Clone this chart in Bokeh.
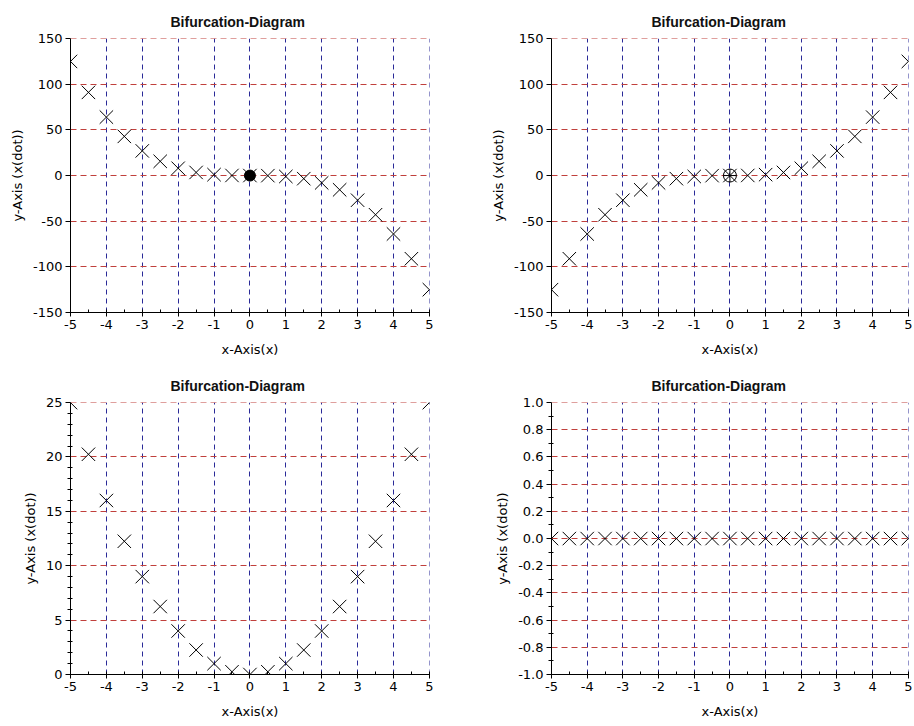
from bokeh.plotting import figure
from bokeh.layouts import column, row
from bokeh.models import FixedTicker, CustomJSTickFormatter
from bokeh.embed import file_html
from bokeh.resources import INLINE

# ---- data ----
x_vals = [-5.0, -4.5, -4.0, -3.5, -3.0, -2.5, -2.0, -1.5, -1.0, -0.5, 0.0,
          0.5, 1.0, 1.5, 2.0, 2.5, 3.0, 3.5, 4.0, 4.5, 5.0]
y_top_left = [125, 91.1, 64, 42.9, 27, 15.6, 8, 3.4, 1, 0.1, 0,
              -0.1, -1, -3.4, -8, -15.6, -27, -42.9, -64, -91.1, -125]
y_top_right = [-125, -91.1, -64, -42.9, -27, -15.6, -8, -3.4, -1, -0.1, 0,
               0.1, 1, 3.4, 8, 15.6, 27, 42.9, 64, 91.1, 125]
y_bottom_left = [25, 20.25, 16, 12.25, 9, 6.25, 4, 2.25, 1, 0.25, 0,
                 0.25, 1, 2.25, 4, 6.25, 9, 12.25, 16, 20.25, 25]
y_bottom_right = [0, 0, 0, 0, 0, 0, 0, 0, 0, 0, 0,
                  0, 0, 0, 0, 0, 0, 0, 0, 0, 0]
stable_x, stable_y = [0.0], [0.0]
unstable_x, unstable_y = [0.0], [0.0]

x_ticks = [-5, -4, -3, -2, -1, 0, 1, 2, 3, 4, 5]
x_minor = [-4.5, -3.5, -2.5, -1.5, -0.5, 0.5, 1.5, 2.5, 3.5, 4.5]
y_ticks_cubic = [-150, -100, -50, 0, 50, 100, 150]
y_ticks_square = [0, 5, 10, 15, 20, 25]
y_minor_square = [1, 2, 3, 4, 6, 7, 8, 9, 11, 12, 13, 14, 16, 17, 18, 19, 21, 22, 23, 24]
y_ticks_flat = [-1.0, -0.8, -0.6, -0.4, -0.2, 0.0, 0.2, 0.4, 0.6, 0.8, 1.0]
y_minor_flat = [-0.9, -0.7, -0.5, -0.3, -0.1, 0.1, 0.3, 0.5, 0.7, 0.9]

TITLE = "Bifurcation-Diagram"
XLABEL = "x-Axis(x)"
YLABEL = "y-Axis (x(dot))"

RED = "#c0403c"
BLUE = "#2a2a98"
TITLE_FONT = "Liberation Sans"
FONT = "DejaVu Sans"


def make_fig(ys, ylo, yhi, yticks, yminor, decimals, left, right, top, bottom, width, height):
    # tiny padding on the far ends so the edge grid lines are drawn too
    p = figure(width=width, height=height,
               x_range=(-5, 5 + 0.004), y_range=(ylo, yhi + (yhi - ylo) * 0.0004),
               output_backend="svg", toolbar_location=None,
               min_border_left=left, min_border_right=right,
               min_border_top=top, min_border_bottom=bottom)
    p.outline_line_color = None
    p.title.text = TITLE
    p.title.align = "left"
    p.title.offset = 100
    p.title.text_font = TITLE_FONT
    p.title.text_font_size = "14px"
    p.title.text_font_style = "bold"
    p.title.text_color = "#111111"
    p.title.standoff = 18

    p.xaxis.ticker = FixedTicker(ticks=x_ticks, minor_ticks=x_minor)
    p.yaxis.ticker = FixedTicker(ticks=yticks, minor_ticks=yminor)
    p.xaxis.formatter = CustomJSTickFormatter(code="return String(Math.round(tick));")
    p.yaxis.formatter = CustomJSTickFormatter(
        code="return tick.toFixed(%d);" % decimals)
    for ax in (p.xaxis, p.yaxis):
        ax.axis_line_color = "black"
        ax.major_tick_line_color = "black"
        ax.minor_tick_line_color = "black"
        ax.major_label_text_font = FONT
        ax.major_label_text_font_size = "13px"
        ax.major_label_text_color = "black"
        ax.axis_label_text_font = FONT
        ax.axis_label_text_font_size = "13px"
        ax.axis_label_text_font_style = "normal"
        ax.axis_label_text_color = "black"
    p.xaxis.axis_label = XLABEL
    p.yaxis.axis_label = YLABEL
    p.xaxis.major_tick_in = 3
    p.xaxis.major_tick_out = 4
    p.xaxis.minor_tick_in = 3
    p.xaxis.minor_tick_out = 0
    p.yaxis.major_tick_in = 0
    p.yaxis.major_tick_out = 5
    p.yaxis.minor_tick_in = 2
    p.yaxis.minor_tick_out = 3
    p.xaxis.major_label_standoff = 3
    p.yaxis.major_label_standoff = 3
    p.xaxis.axis_label_standoff = 10
    p.yaxis.axis_label_standoff = 5

    p.xgrid.grid_line_color = BLUE
    p.xgrid.grid_line_dash = "5 4"
    p.xgrid.grid_line_width = 1
    p.ygrid.grid_line_color = RED
    p.ygrid.grid_line_dash = "6 4"
    p.ygrid.grid_line_width = 1

    p.scatter(x_vals, ys, marker="x", size=19, line_color="black", line_width=1)
    return p


p1 = make_fig(y_top_left, -150, 150, y_ticks_cubic, [], 0,
              70, 28, 38, 51, 457, 363)
p1.scatter(stable_x, stable_y, marker="circle", size=11,
           fill_color="black", line_color="black")

p2 = make_fig(y_top_right, -150, 150, y_ticks_cubic, [], 0,
              94, 6, 38, 51, 457, 363)
p2.scatter(unstable_x, unstable_y, marker="circle_cross", size=13,
           fill_color=None, line_color="black", line_width=1)

p3 = make_fig(y_bottom_left, 0, 25, y_ticks_square, y_minor_square, 0,
              70, 28, 39, 52, 457, 363)
p4 = make_fig(y_bottom_right, -1, 1, y_ticks_flat, y_minor_flat, 1,
              94, 6, 39, 52, 457, 363)

layout = column(row(p1, p2), row(p3, p4))
open("out.html", "w").write(file_html(layout, INLINE))
